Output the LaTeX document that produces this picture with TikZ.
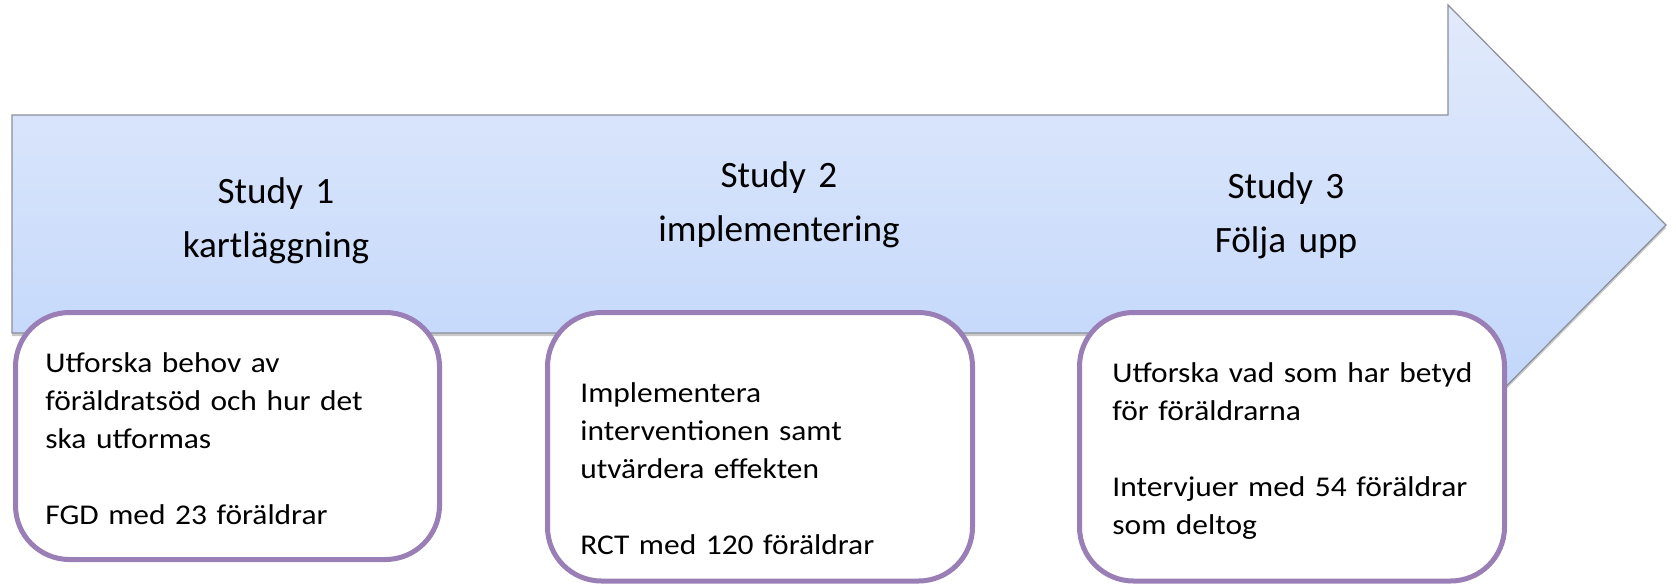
\documentclass[tikz,border=0pt]{standalone}
\usepackage{fontspec}
\setmainfont{Carlito}
\newfontfamily\bodyfont[FakeStretch=1.1]{Carlito}
\usetikzlibrary{shadows}
\definecolor{arrowtop}{HTML}{E2EAFB}
\definecolor{arrowbot}{HTML}{BDD4FB}
\definecolor{arrowline}{HTML}{8A8F99}
\definecolor{boxline}{HTML}{9A7EB6}
\tikzset{
  bigarrow/.style={draw=arrowline, line width=0.6pt, top color=arrowtop, bottom color=arrowbot,
    drop shadow={shadow xshift=0pt, shadow yshift=-1.5pt, opacity=0.35, fill=black!60}},
  studybox/.style={draw=boxline, line width=2.5pt, fill=white, rounded corners=27pt},
  headtext/.style={text width=200pt, align=center, anchor=base, inner sep=0pt,
    font=\fontsize{18.6pt}{27pt}\selectfont},
  bodytext/.style={text width=210pt, align=left, anchor=base west, inner sep=0pt,
    font=\bodyfont\fontsize{14.3pt}{19pt}\selectfont}
}
\begin{document}
\begin{tikzpicture}[x=0.5pt, y=-0.5pt]
\useasboundingbox (0,0) rectangle (1676,585);
\fill[white] (0,0) rectangle (1676,585);
% big arrow
\path[bigarrow] (12,115) -- (1448,115) -- (1448,5) -- (1666,225) -- (1448,445) -- (1448,333) -- (12,333) -- cycle;
% headers
\node[headtext] (h1) at (276,203) {Study 1\\kartläggning};
\node[headtext] (h2) at (779,187) {Study 2\\implementering};
\node[headtext] (h3) at (1286,198) {Study 3\\Följa upp};
% boxes
\path[studybox] (15.5,312.5) rectangle (439.5,559.5);
\path[studybox] (547.5,312.5) rectangle (972.5,581);
\path[studybox] (1079.5,312.5) rectangle (1504.5,581);
% box texts
\node[bodytext] (t1) at (45,372) {Utforska behov av\\föräldratsöd och hur det\\ska utformas\\[19pt]FGD med 23 föräldrar};
\node[bodytext] (t2) at (580,402) {Implementera\\interventionen samt\\utvärdera effekten\\[19pt]RCT med 120 föräldrar};
\node[bodytext] (t3) at (1112,382) {Utforska vad som har betyd\\för föräldrarna\\[19pt]Intervjuer med 54 föräldrar\\som deltog};
\end{tikzpicture}
\end{document}
